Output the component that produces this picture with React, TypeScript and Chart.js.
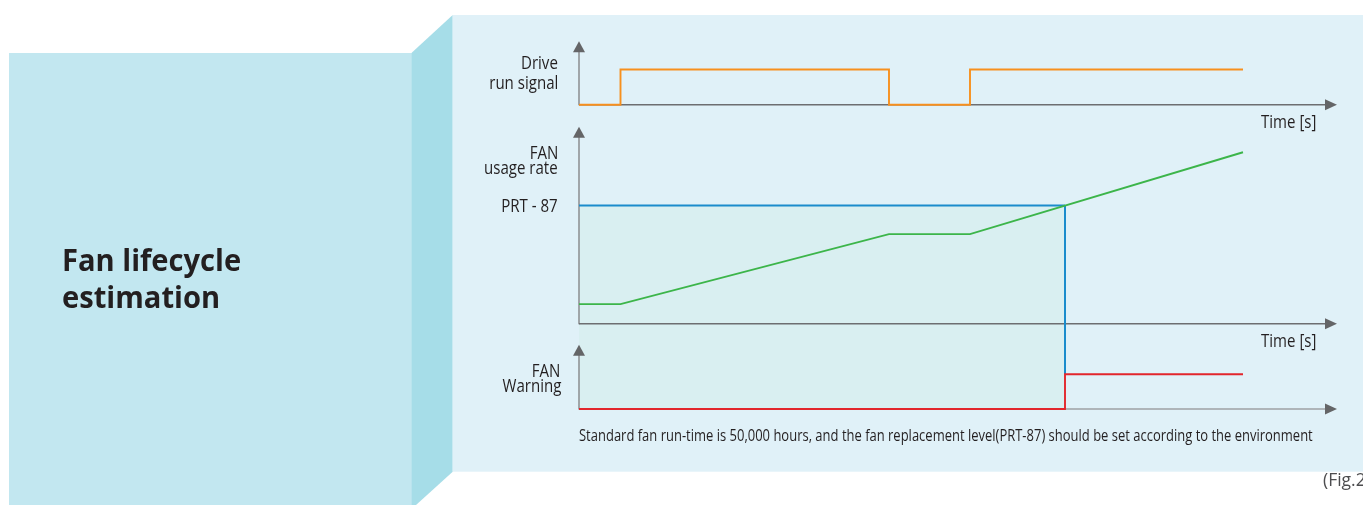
import React, { useEffect, useRef } from 'react';
import { Chart, registerables } from 'chart.js';

Chart.register(...registerables);

// ---------- data (time in arbitrary units, t = 0 at the vertical axes) ----------
const runTimes = [0, 4.15, 31.0, 39.1, 66.4];
const runValues = [0, 1, 0, 1, 1];

const usageTimes = [0, 4.15, 31.0, 39.1, 66.4];
const usageValues = [10, 10, 45.5, 45.5, 87]; // % of fan life used
const prtTimes = [0, 48.6];
const prtLevel = 60; // PRT-87 replacement level

const warnTimes = [0, 48.6, 66.4];
const warnValues = [0, 1, 1];

const timeAxisEnd = 75.8;
const runAxisTop = 1.8;
const usageAxisTop = 100;
const warnAxisTop = 1.85;

// ---------- layout ----------
const W = 1363;
const H = 505;
const FONT = '"Open Sans", "Noto Sans", sans-serif';
const TEXT = '#231f20';

function fitX(v0: number, p0: number, v1: number, p1: number) {
  const k = (v1 - v0) / (p1 - p0);
  return { min: v0 + k * (0 - p0), max: v0 + k * (W - p0) };
}
function fitY(v0: number, p0: number, v1: number, p1: number) {
  const k = (v1 - v0) / (p1 - p0);
  return { max: v0 + k * (0 - p0), min: v0 + k * (H - p0) };
}

const xRange = fitX(0, 579, 66.4, 1243);
const runRange = fitY(0, 104.8, 1, 69.5);
const usageRange = fitY(0, 323.8, prtLevel, 205.5);
const warnRange = fitY(0, 409, 1, 374.3);

const pts = (xs: number[], ys: number[]) => xs.map((x, i) => ({ x, y: ys[i] }));

function arrowPlugin() {
  return {
    id: 'diagramAxes',
    beforeDatasetsDraw(chart: any) {
      const ctx = chart.ctx;
      const sx = chart.scales.x;
      const x0 = sx.getPixelForValue(0);
      const xEnd = sx.getPixelForValue(timeAxisEnd);
      const xWarn = sx.getPixelForValue(prtTimes[prtTimes.length - 1]);
      const su = chart.scales.yUsage;
      const sw = chart.scales.yWarn;
      const yPrt = su.getPixelForValue(prtLevel);
      const yWarn0 = sw.getPixelForValue(0);
      const yWarn1 = sw.getPixelForValue(1);

      ctx.save();
      // shaded region below the replacement level
      ctx.fillStyle = '#d9eff1';
      ctx.fillRect(x0, yPrt, xWarn - x0, yWarn0 - yPrt);

      const panels = [
        { s: chart.scales.yRun, top: runAxisTop, xColor: '#6d6e71' },
        { s: su, top: usageAxisTop, xColor: '#6d6e71' },
        { s: sw, top: warnAxisTop, xColor: '#9fa1a4' },
      ];
      for (const p of panels) {
        const yBase = p.s.getPixelForValue(0);
        const yTop = p.s.getPixelForValue(p.top);
        // vertical axis
        ctx.strokeStyle = '#858688';
        ctx.lineWidth = 1.4;
        ctx.beginPath();
        ctx.moveTo(x0, yBase + 0.5);
        ctx.lineTo(x0, yTop + 8);
        ctx.stroke();
        ctx.fillStyle = '#646567';
        ctx.beginPath();
        ctx.moveTo(x0, yTop);
        ctx.lineTo(x0 - 6, yTop + 11);
        ctx.lineTo(x0 + 6, yTop + 11);
        ctx.closePath();
        ctx.fill();
        // horizontal axis
        ctx.strokeStyle = p.xColor;
        ctx.lineWidth = 1.5;
        ctx.beginPath();
        ctx.moveTo(x0, yBase);
        ctx.lineTo(xEnd - 8, yBase);
        ctx.stroke();
        ctx.fillStyle = '#646567';
        ctx.beginPath();
        ctx.moveTo(xEnd, yBase);
        ctx.lineTo(xEnd - 12, yBase - 5.5);
        ctx.lineTo(xEnd - 12, yBase + 5.5);
        ctx.closePath();
        ctx.fill();
      }

      // replacement-level drop from the usage panel to the warning panel
      ctx.strokeStyle = '#1b8ccc';
      ctx.lineWidth = 2;
      ctx.beginPath();
      ctx.moveTo(xWarn, yPrt);
      ctx.lineTo(xWarn, yWarn1);
      ctx.stroke();
      ctx.restore();
    },
  };
}

function Label(props: {
  text: string;
  x: number;
  baseline: number;
  size: number;
  align?: 'left' | 'right';
  bold?: boolean;
  sx?: number;
  color?: string;
}) {
  const { text, x, baseline, size, align = 'left', bold = false, sx = 0.86, color = TEXT } = props;
  const top = baseline - 0.888 * size;
  const style: React.CSSProperties = {
    position: 'absolute',
    top,
    fontFamily: FONT,
    fontSize: size,
    lineHeight: `${size}px`,
    fontWeight: bold ? 700 : 400,
    color,
    whiteSpace: 'nowrap',
    transform: `scaleX(${sx})`,
    transformOrigin: align === 'left' ? 'left center' : 'right center',
  };
  if (align === 'left') style.left = x;
  else style.right = W - x;
  return <div style={style}>{text}</div>;
}

export default function App() {
  const ref = useRef<HTMLCanvasElement | null>(null);

  useEffect(() => {
    if (!ref.current) return;
    const line = (data: any, color: string, yAxisID: string, stepped: any) => ({
      data,
      borderColor: color,
      backgroundColor: color,
      borderWidth: 1.9,
      pointRadius: 0,
      fill: false,
      tension: 0,
      stepped,
      yAxisID,
      borderJoinStyle: 'miter',
      borderCapStyle: 'butt',
    });
    const chart = new Chart(ref.current, {
      type: 'line',
      data: {
        datasets: [
          line(pts(warnTimes, warnValues), '#e2262c', 'yWarn', 'before'),
          line(pts(usageTimes, usageValues), '#3cb54a', 'yUsage', false),
          line(pts(prtTimes, prtTimes.map(() => prtLevel)), '#1b8ccc', 'yUsage', false),
          line(pts(runTimes, runValues), '#f7901e', 'yRun', 'before'),
        ] as any,
      },
      options: {
        animation: false,
        responsive: false,
        maintainAspectRatio: false,
        layout: { padding: 0 },
        clip: false as any,
        plugins: { legend: { display: false }, tooltip: { enabled: false } },
        scales: {
          x: { type: 'linear', display: false, bounds: 'data', min: xRange.min, max: xRange.max },
          yRun: { type: 'linear', display: false, bounds: 'data', min: runRange.min, max: runRange.max },
          yUsage: { type: 'linear', display: false, bounds: 'data', min: usageRange.min, max: usageRange.max },
          yWarn: { type: 'linear', display: false, bounds: 'data', min: warnRange.min, max: warnRange.max },
        } as any,
      },
      plugins: [arrowPlugin()],
    });
    return () => chart.destroy();
  }, []);

  return (
    <div
      style={{
        position: 'absolute',
        left: 0,
        top: 0,
        width: W,
        height: H,
        overflow: 'hidden',
        background: '#ffffff',
      }}
    >
      <div style={{ position: 'absolute', left: 9, top: 52.7, width: 403, height: H - 52.7, background: '#c2e7f0' }} />
      <svg width={W} height={H} style={{ position: 'absolute', left: 0, top: 0 }}>
        <polygon points="411.7,52.7 452.7,15 452.7,471.7 416,505 411.7,505" fill="#a6dde8" />
        <rect x={452.7} y={15} width={W - 452.7} height={471.7 - 15} fill="#e0f1f8" />
      </svg>
      <canvas ref={ref} width={W} height={H} style={{ position: 'absolute', left: 0, top: 0 }} />

      <Label text="Fan lifecycle" x={61.5} baseline={271} size={30.5} bold sx={0.955} />
      <Label text="estimation" x={61.5} baseline={308} size={30.5} bold sx={0.955} />

      <Label text="Drive" x={558} baseline={70} size={17.5} align="right" />
      <Label text="run signal" x={558} baseline={90} size={17.5} align="right" />
      <Label text="Time [s]" x={1261} baseline={129} size={17.5} />

      <Label text="FAN" x={558} baseline={159.3} size={17.5} align="right" />
      <Label text="usage rate" x={558} baseline={174.3} size={17.5} align="right" />
      <Label text="PRT - 87" x={557.5} baseline={212.7} size={17.5} align="right" />
      <Label text="Time [s]" x={1261} baseline={347.7} size={17.5} />

      <Label text="FAN" x={560} baseline={377.3} size={17.5} align="right" />
      <Label text="Warning" x={561.5} baseline={392.7} size={17.5} align="right" />

      <Label
        text="Standard fan run-time is 50,000 hours, and the fan replacement level(PRT-87) should be set according to the environment"
        x={579}
        baseline={441.7}
        size={15.5}
        sx={0.838}
      />
      <Label text="(Fig.2)" x={1323} baseline={487} size={17.5} sx={1.0} color="#4d4d4f" />
    </div>
  );
}
